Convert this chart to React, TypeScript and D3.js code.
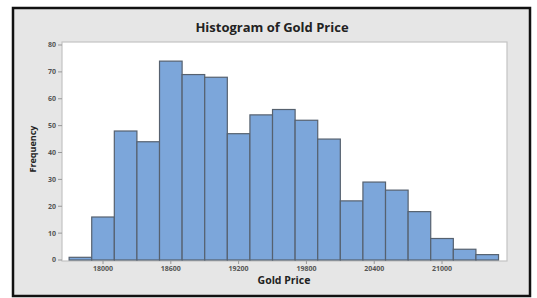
import {useEffect, useRef} from "react";
import * as d3 from "d3";

// bin centres (width 200) and counts
const binCenters = [17800, 18000, 18200, 18400, 18600, 18800, 19000, 19200, 19400, 19600,
    19800, 20000, 20200, 20400, 20600, 20800, 21000, 21200, 21400];
const counts = [1, 16, 48, 44, 74, 69, 68, 47, 54, 56, 52, 45, 22, 29, 26, 18, 8, 4, 2];
const xTicks = [18000, 18600, 19200, 19800, 20400, 21000];
const yTicks = [0, 10, 20, 30, 40, 50, 60, 70, 80];
const binWidth = 200;

function App() {
    const ref = useRef<SVGSVGElement>(null);
    const width = 537, height = 298;
    // plot box
    const left = 62, right = 507, top = 42, bottom = 261;

    useEffect(() => {
        const svg = d3.select(ref.current);
        svg.selectAll("*").remove();

        // outer frame
        svg.append("rect")
            .attr("x", 13).attr("y", 8)
            .attr("width", 517).attr("height", 288)
            .attr("fill", "#e6e6e6")
            .attr("stroke", "#111")
            .attr("stroke-width", 2.5);

        const x = d3.scaleLinear().domain([17637, 21575]).range([left, right]);
        const y = d3.scaleLinear().domain([0, 80]).range([260, 45]);

        svg.append("rect")
            .attr("x", left).attr("y", top)
            .attr("width", right - left).attr("height", bottom - top)
            .attr("fill", "#fff")
            .attr("stroke", "#c4c4c4")
            .attr("stroke-width", 1.2);

        // bars
        svg.append("g")
            .selectAll("rect")
            .data(binCenters)
            .join("rect")
            .attr("x", d => x(d - binWidth / 2))
            .attr("y", (d, i) => y(counts[i]))
            .attr("width", d => x(d + binWidth / 2) - x(d - binWidth / 2))
            .attr("height", (d, i) => y(0) - y(counts[i]))
            .attr("fill", "#7ca6da")
            .attr("stroke", "#56616f")
            .attr("stroke-width", 1.2);

        const font = "'Open Sans', 'DejaVu Sans', sans-serif";

        // y axis
        const yAxis = svg.append("g");
        yAxis.selectAll("line")
            .data(yTicks)
            .join("line")
            .attr("x1", left - 4).attr("x2", left)
            .attr("y1", d => y(d)).attr("y2", d => y(d))
            .attr("stroke", "#999");
        yAxis.selectAll("text")
            .data(yTicks)
            .join("text")
            .attr("x", left - 6)
            .attr("y", d => y(d))
            .attr("dy", "0.35em")
            .attr("text-anchor", "end")
            .attr("font-family", font)
            .attr("font-size", 7)
            .attr("font-weight", "bold")
            .attr("fill", "#555")
            .text(d => d);

        // x axis
        const xAxis = svg.append("g");
        xAxis.selectAll("line")
            .data(xTicks)
            .join("line")
            .attr("x1", d => x(d)).attr("x2", d => x(d))
            .attr("y1", bottom).attr("y2", bottom + 3)
            .attr("stroke", "#999");
        xAxis.selectAll("text")
            .data(xTicks)
            .join("text")
            .attr("x", d => x(d))
            .attr("y", 271)
            .attr("text-anchor", "middle")
            .attr("font-family", font)
            .attr("font-size", 7)
            .attr("font-weight", "bold")
            .attr("fill", "#555")
            .text(d => d);

        // titles
        svg.append("text")
            .attr("x", 272).attr("y", 32)
            .attr("text-anchor", "middle")
            .attr("font-family", font)
            .attr("font-size", 13)
            .attr("font-weight", "bold")
            .attr("fill", "#222")
            .text("Histogram of Gold Price");
        svg.append("text")
            .attr("x", 284).attr("y", 284)
            .attr("text-anchor", "middle")
            .attr("font-family", font)
            .attr("font-size", 10.5)
            .attr("font-weight", "bold")
            .attr("fill", "#222")
            .text("Gold Price");
        svg.append("text")
            .attr("transform", "translate(36,149) rotate(-90)")
            .attr("text-anchor", "middle")
            .attr("font-family", font)
            .attr("font-size", 9)
            .attr("font-weight", "bold")
            .attr("fill", "#222")
            .text("Frequency");
    }, []);

    return (
        <svg ref={ref} width={width} height={height}
             style={{position: "absolute", left: 0, top: 0, background: "#fff"}} />
    );
}

export default App;
